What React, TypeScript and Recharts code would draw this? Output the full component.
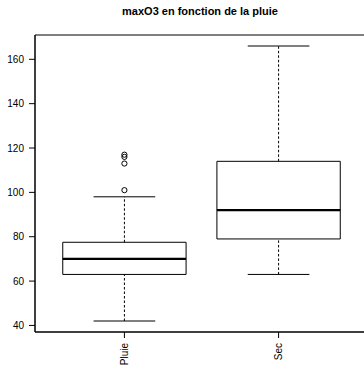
import { ComposedChart, XAxis, YAxis, Scatter, ReferenceArea, ReferenceLine } from 'recharts';

const categories = ['Pluie', 'Sec'];
const lowerWhisker = [42, 63];
const q1 = [63, 79];
const median = [70, 92];
const q3 = [77.5, 114];
const upperWhisker = [98, 166];
const outliers = [
  { x: 1, y: 101 },
  { x: 1, y: 113 },
  { x: 1, y: 116 },
  { x: 1, y: 117 },
];
const yTicks = [40, 60, 80, 100, 120, 140, 160];

const font = '"Liberation Sans", Arial, Helvetica, sans-serif';

// R-style 4% padding on both axes
const allValues = [...lowerWhisker, ...upperWhisker, ...outliers.map(o => o.y)];
const yMin = Math.min(...allValues);
const yMax = Math.max(...allValues);
const yPad = (yMax - yMin) * 0.04;
const yDomain = [yMin - yPad, yMax + yPad];
const xPad = categories.length * 0.04;
const xDomain = [0.5 - xPad, categories.length + 0.5 + xPad];

function XTick({ x, y, payload }: any) {
  const label = categories[Math.round(payload.value) - 1] ?? '';
  const ty = y + 3;
  return (
    <text x={x} y={ty} dy="0.35em" textAnchor="end" transform={`rotate(-90, ${x}, ${ty})`}
      fontSize={10} fontFamily={font} fill="#000">
      {label}
    </text>
  );
}

function Outlier({ cx, cy }: any) {
  return <circle cx={cx} cy={cy} r={2.6} stroke="#000" strokeWidth={1} fill="none" />;
}

export default function App() {
  return (
    <div style={{ position: 'fixed', left: 0, top: 0, width: 364, height: 365, overflow: 'hidden', background: '#fff' }}>
      <div style={{ position: 'absolute', left: 35, top: 5, width: 330, textAlign: 'center', fontFamily: font,
        fontWeight: 'bold', fontSize: 11, lineHeight: '13px' }}>
        maxO3 en fonction de la pluie
      </div>
      <ComposedChart width={370} height={365} margin={{ top: 35, right: 2, bottom: 0, left: 0 }}>
        <XAxis type="number" dataKey="x" domain={xDomain} ticks={categories.map((_, i) => i + 1)}
          allowDataOverflow height={33} tickSize={6} tick={<XTick />}
          axisLine={{ stroke: '#000' }} tickLine={{ stroke: '#000' }} />
        <YAxis type="number" dataKey="y" domain={yDomain} ticks={yTicks} allowDataOverflow
          width={35} tickSize={6} tickMargin={5}
          tick={{ fontSize: 10, fontFamily: font, fill: '#000' }}
          axisLine={{ stroke: '#000' }} tickLine={{ stroke: '#000' }} />
        <ReferenceArea x1={xDomain[0]} x2={xDomain[1]} y1={yDomain[0]} y2={yDomain[1]}
          fill="none" stroke="#000" strokeWidth={1} fillOpacity={0} ifOverflow="visible" />
        {categories.map((c, i) => {
          const x = i + 1;
          return [
            <ReferenceLine key={c + 'wu'} segment={[{ x, y: q3[i] }, { x, y: upperWhisker[i] }]}
              stroke="#000" strokeDasharray="2.5 2" ifOverflow="visible" />,
            <ReferenceLine key={c + 'wl'} segment={[{ x, y: lowerWhisker[i] }, { x, y: q1[i] }]}
              stroke="#000" strokeDasharray="2.5 2" ifOverflow="visible" />,
            <ReferenceLine key={c + 'cu'} segment={[{ x: x - 0.2, y: upperWhisker[i] }, { x: x + 0.2, y: upperWhisker[i] }]}
              stroke="#000" ifOverflow="visible" />,
            <ReferenceLine key={c + 'cl'} segment={[{ x: x - 0.2, y: lowerWhisker[i] }, { x: x + 0.2, y: lowerWhisker[i] }]}
              stroke="#000" ifOverflow="visible" />,
            <ReferenceArea key={c + 'box'} x1={x - 0.4} x2={x + 0.4} y1={q1[i]} y2={q3[i]}
              fill="#fff" fillOpacity={1} stroke="#000" strokeWidth={1} ifOverflow="visible" />,
            <ReferenceLine key={c + 'med'} segment={[{ x: x - 0.4, y: median[i] }, { x: x + 0.4, y: median[i] }]}
              stroke="#000" strokeWidth={2.2} ifOverflow="visible" />,
          ];
        })}
        <Scatter data={outliers} dataKey="y" shape={<Outlier />} isAnimationActive={false} />
      </ComposedChart>
    </div>
  );
}
